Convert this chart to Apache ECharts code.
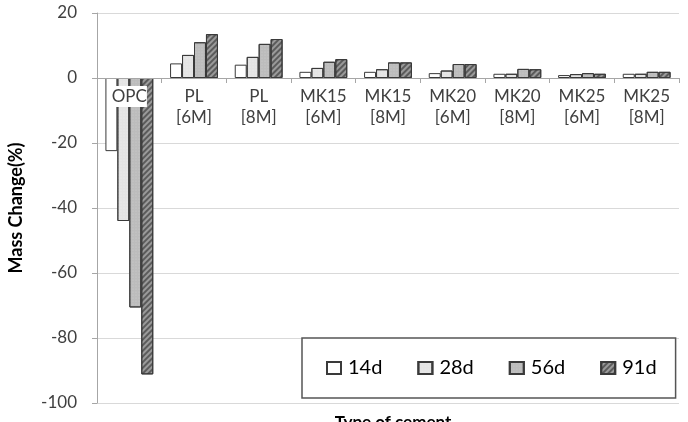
<!DOCTYPE html>
<html>
<head>
<meta charset="utf-8">
<script src="https://cdn.jsdelivr.net/npm/echarts@6/dist/echarts.min.js"></script>
<style>
  html, body { margin: 0; padding: 0; background: #fff; }
  #chart { width: 688px; height: 422px; }
</style>
</head>
<body>
<div id="chart"></div>
<script>
const categories = ['OPC', 'PL\n[6M]', 'PL\n[8M]', 'MK15\n[6M]', 'MK15\n[8M]', 'MK20\n[6M]', 'MK20\n[8M]', 'MK25\n[6M]', 'MK25\n[8M]']
const seriesNames = ['14d', '28d', '56d', '91d']
const d14 = [-22.5, 4.5, 4.1, 1.9, 1.9, 1.5, 1.3, 0.9, 1.3]
const d28 = [-44, 7.1, 6.5, 3.1, 2.7, 2.3, 1.3, 1.2, 1.3]
const d56 = [-70.6, 11, 10.5, 5.0, 4.8, 4.3, 2.8, 1.5, 1.9]
const d91 = [-91.2, 13.5, 12, 5.8, 4.8, 4.3, 2.7, 1.3, 1.9]
const yTicks = [-100, -80, -60, -40, -20, 0, 20]

const font = 'Lato, "Open Sans", sans-serif'
const fills = ['#ffffff', '#e4e4e4', '#bcbcbc', '#9a9a9a']
const decals = [
  null,
  { symbol: 'circle', symbolSize: 0.5, dashArrayX: [2, 1], dashArrayY: [2, 1], color: 'rgba(255,255,255,0.5)' },
  { symbol: 'circle', symbolSize: 0.5, dashArrayX: [2, 1], dashArrayY: [2, 1], color: 'rgba(255,255,255,0.35)' },
  { symbol: 'rect', symbolSize: 1, dashArrayX: [1, 0], dashArrayY: [2, 2], rotation: -Math.PI / 4, color: 'rgba(40,40,40,0.55)' }
]
const values = [d14, d28, d56, d91]

// plot area is 13..403 in pixels, zero sits 325 px above the bottom edge
const zeroOffset = -325

const chart = echarts.init(document.getElementById('chart'))
chart.setOption({
  animation: false,
  textStyle: { fontFamily: font },
  title: {
    text: 'Type of cement',
    left: 388,
    textAlign: 'center',
    top: 409,
    textStyle: { fontFamily: font, fontSize: 17, fontWeight: 'bold', color: '#000' }
  },
  grid: { left: 97, right: 9, top: 13, bottom: 19, containLabel: false, outerBoundsMode: 'none' },
  legend: {
    data: seriesNames,
    left: 302,
    top: 338,
    padding: [20, 19, 20, 24],
    borderColor: '#555',
    borderWidth: 1.5,
    backgroundColor: '#fff',
    icon: 'rect',
    itemWidth: 14,
    itemHeight: 12,
    itemGap: 35,
    textStyle: { fontFamily: font, fontSize: 20, color: '#000', padding: [0, 0, 0, 2] },
    z: 10
  },
  xAxis: {
    type: 'category',
    data: categories,
    position: 'bottom',
    offset: zeroOffset,
    z: 5,
    axisLine: { onZero: false, lineStyle: { color: '#a6a6a6' } },
    axisTick: { show: true, length: 5, lineStyle: { color: '#a6a6a6' } },
    axisLabel: {
      fontFamily: font,
      fontSize: 17,
      color: '#404040',
      lineHeight: 21,
      margin: 8,
      backgroundColor: '#fff',
      interval: 0
    }
  },
  yAxis: {
    type: 'value',
    min: -100,
    max: 20,
    interval: 20,
    name: 'Mass Change(%)',
    nameLocation: 'middle',
    nameGap: 72,
    nameRotate: 90,
    nameTextStyle: { fontFamily: font, fontSize: 18, fontWeight: 'bold', color: '#000' },
    axisLine: { show: true, lineStyle: { color: '#a6a6a6' } },
    axisTick: { show: true, length: 5, lineStyle: { color: '#a6a6a6' } },
    axisLabel: {
      fontFamily: font,
      fontSize: 17,
      color: '#404040',
      margin: 20,
      formatter: v => yTicks.includes(v) ? String(v) : ''
    },
    splitLine: { lineStyle: { color: '#d9d9d9' } }
  },
  series: seriesNames.map((name, i) => ({
    name,
    type: 'bar',
    data: values[i],
    barGap: '0%',
    barCategoryGap: '26%',
    itemStyle: {
      color: fills[i],
      borderColor: '#3a3a3a',
      borderWidth: 1,
      decal: decals[i] || undefined
    }
  }))
})
</script>
</body>
</html>
